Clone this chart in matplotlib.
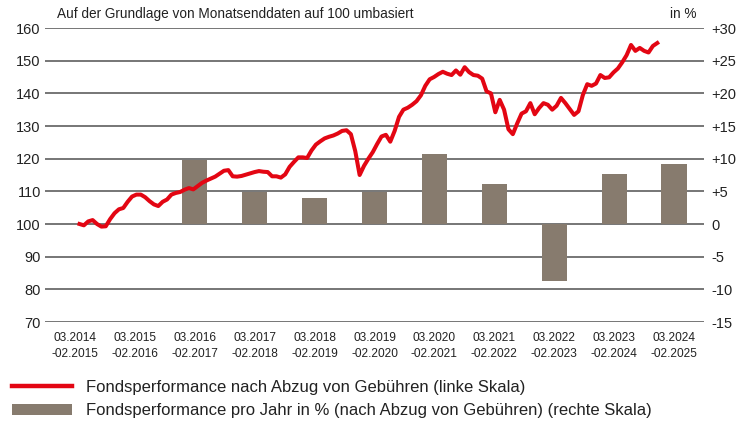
import matplotlib
matplotlib.use("Agg")
import matplotlib.pyplot as plt
import numpy as np
from matplotlib.lines import Line2D
from matplotlib.patches import Patch

plt.rcParams['font.family'] = ['Liberation Sans', 'DejaVu Sans']

categories = ["03.2014\n-02.2015", "03.2015\n-02.2016", "03.2016\n-02.2017",
              "03.2017\n-02.2018", "03.2018\n-02.2019", "03.2019\n-02.2020",
              "03.2020\n-02.2021", "03.2021\n-02.2022", "03.2022\n-02.2023",
              "03.2023\n-02.2024", "03.2024\n-02.2025"]
annual_pct = [np.nan, np.nan, 9.8, 4.95, 4.0, 4.95, 10.7, 6.1, -8.7, 7.65, 9.2]

# monthly fund performance, rebased to 100
perf = [100.0, 99.6, 100.8, 101.2, 100.0, 99.2, 99.3, 101.5, 103.3, 104.5,
        104.9, 106.8, 108.4, 109.0, 109.0, 108.2, 107.0, 106.0, 105.5, 106.8,
        107.5, 109.0, 109.5, 109.8, 110.5, 111.0, 110.6, 111.6, 112.6, 113.3,
        113.9, 114.5, 115.4, 116.3, 116.5, 114.6, 114.5, 114.7, 115.1, 115.5,
        115.9, 116.2, 116.0, 115.9, 114.6, 114.6, 114.2, 115.2, 117.5, 119.0,
        120.4, 120.4, 120.2, 122.5, 124.3, 125.3, 126.2, 126.7, 127.1, 127.7,
        128.5, 128.7, 127.5, 122.3, 115.0, 117.8, 120.0, 122.0, 124.5, 126.8,
        127.3, 125.2, 128.5, 132.8, 135.0, 135.6, 136.5, 137.6, 139.4, 142.3,
        144.3, 145.0, 145.9, 146.6, 146.0, 145.6, 147.0, 145.7, 148.0, 146.5,
        145.6, 145.4, 144.5, 140.6, 140.0, 134.2, 138.0, 135.0, 129.0, 127.5,
        130.8, 133.8, 134.5, 137.0, 133.6, 135.5, 137.0, 136.5, 135.0, 136.2,
        138.6, 137.0, 135.2, 133.4, 134.5, 139.5, 142.8, 142.3, 143.0, 145.6,
        144.7, 144.9, 146.4, 147.6, 149.5, 151.7, 154.8, 153.0, 153.9, 153.0,
        152.5, 154.5, 155.4]

left_ticks = [70, 80, 90, 100, 110, 120, 130, 140, 150, 160]
right_ticks = [-15, -10, -5, 0, 5, 10, 15, 20, 25, 30]
right_labels = ["-15", "-10", "-5", "0", "+5", "+10", "+15", "+20", "+25", "+30"]

RED = "#E30613"
BAR = "#877B6E"
GRID = "#5f5f5f"

fig = plt.figure(figsize=(7.47, 4.25), dpi=100)
ax = fig.add_axes([45/747, 1-322/425, (704-45)/747, (322-28)/425])
ax2 = ax.twinx()

x = np.arange(len(categories))
ax2.bar(x, annual_pct, width=0.42, color=BAR, zorder=2)
ax2.set_ylim(-15, 30)
ax2.set_yticks(right_ticks)
ax2.set_yticklabels(right_labels)
ax2.grid(axis='y', color=GRID, lw=1.2, zorder=0)
ax2.set_axisbelow(True)

xl = np.linspace(0.076, 9.72, len(perf))
ax.plot(xl, perf, color=RED, lw=2.9, solid_joinstyle='round', zorder=5)
ax.set_ylim(70, 160)
ax.set_yticks(left_ticks)
ax.set_xlim(-0.5, 10.5)
ax.set_xticks(x)
ax.set_xticklabels(categories, linespacing=1.45)
ax.set_zorder(ax2.get_zorder() + 1)
ax.patch.set_visible(False)

for a in (ax, ax2):
    for s in a.spines.values():
        s.set_visible(False)
    a.tick_params(length=0, labelsize=10.5, colors="#222222")
ax.tick_params(axis='y', pad=3)
ax2.tick_params(axis='y', pad=5)
ax.tick_params(axis='x', pad=7, labelsize=8.6)

fig.text(57/747, 1-14/425, "Auf der Grundlage von Monatsenddaten auf 100 umbasiert",
         fontsize=9.8, va='center', ha='left', color="#222222")
fig.text(697/747, 1-14/425, "in %", fontsize=9.8, va='center', ha='right', color="#222222")

handles = [Line2D([0], [0], color=RED, lw=3.2),
           Patch(facecolor=BAR, edgecolor='none')]
labels = ["Fondsperformance nach Abzug von Gebühren (linke Skala)",
          "Fondsperformance pro Jahr in % (nach Abzug von Gebühren) (rechte Skala)"]
fig.legend(handles, labels, loc='upper left', bbox_to_anchor=(12/747, 1-380/425),
           frameon=False, fontsize=12, handlelength=3.6, handleheight=0.72,
           handletextpad=0.85, labelspacing=0.5, borderaxespad=0, borderpad=0,
           labelcolor="#222222")

fig.savefig("out.png", dpi=100)
